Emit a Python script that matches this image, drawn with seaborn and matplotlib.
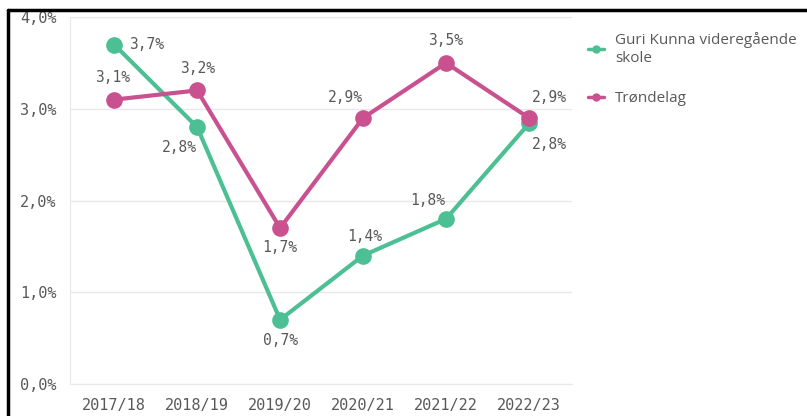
import matplotlib
matplotlib.use("Agg")
import matplotlib.pyplot as plt
from matplotlib.lines import Line2D
import pandas as pd
import seaborn as sns

# data
years = ["2017/18", "2018/19", "2019/20", "2020/21", "2021/22", "2022/23"]
guri = [3.7, 2.8, 0.7, 1.4, 1.8, 2.84]
trondelag = [3.1, 3.2, 1.7, 2.9, 3.5, 2.9]
series_names = ["Guri Kunna videregående skole", "Trøndelag"]
yticks = [0.0, 1.0, 2.0, 3.0, 4.0]

green = "#4dbf95"
pink = "#c9518f"
grey_txt = "#595959"

df = pd.DataFrame({
    "year": years * 2,
    "pct": guri + trondelag,
    "serie": [series_names[0]] * len(years) + [series_names[1]] * len(years),
})
df["x"] = df["year"].map({y: i for i, y in enumerate(years)})

sns.set_style("white")
mono = ["DejaVu Sans Mono"]

fig = plt.figure(figsize=(8.07, 4.16), dpi=100)
ax = fig.add_axes([0.087, 0.077, 0.622, 0.882])

sns.lineplot(data=df, x="x", y="pct", hue="serie", palette=[green, pink],
             marker="o", markersize=12, markeredgewidth=0, linewidth=3,
             ax=ax, legend=False)

ax.set_xlim(-0.53, 5.52)
ax.set_ylim(0, 4.0)
ax.set_xticks(range(len(years)))
ax.set_xticklabels(years, fontfamily=mono, fontsize=11, color=grey_txt)
ax.set_yticks(yticks)
ax.set_yticklabels([f"{v:.1f}".replace(".", ",") + "%" for v in yticks],
                   fontfamily=mono, fontsize=11, color=grey_txt)
ax.tick_params(length=0, pad=10)
ax.set_xlabel("")
ax.set_ylabel("")
ax.grid(axis="y", color="#e8e8e8", linewidth=1)
for s in ["top", "right"]:
    ax.spines[s].set_visible(False)
ax.spines["left"].set_color("#e8e8e8")
ax.spines["bottom"].set_color("#e8e8e8")

def lab(v):
    return f"{v:.1f}".replace(".", ",") + "%"

# label offsets (points) per point
g_off = [(23, 0), (-13, -15), (0, -15), (1, 14), (-13, 13), (15, -15)]
p_off = [(-1, 16), (0, 16), (0, -14), (-13, 15), (0, 16), (15, 15)]
for i in range(len(years)):
    ax.annotate(lab(guri[i]), (i, guri[i]), xytext=g_off[i], textcoords="offset points",
                ha="center", va="center", fontfamily=mono, fontsize=10.5, color=grey_txt)
    ax.annotate(lab(trondelag[i]), (i, trondelag[i]), xytext=p_off[i], textcoords="offset points",
                ha="center", va="center", fontfamily=mono, fontsize=10.5, color=grey_txt)

handles = [Line2D([], [], color=c, marker="o", markersize=5, linewidth=2.5) for c in (green, pink)]
leg = fig.legend(handles, ["Guri Kunna videregående\nskole", "Trøndelag"],
                 loc="upper left", bbox_to_anchor=(0.712, 0.957), frameon=False,
                 labelcolor=grey_txt, handlelength=1.0, handletextpad=0.75,
                 labelspacing=1.6, prop={"family": "Open Sans", "size": 11})
for t in leg.get_texts():
    t.set_linespacing(1.35)

# screenshot frame
fig.add_artist(Line2D([0.01, 1.0], [0.976, 0.976], color="black", linewidth=2.5))
fig.add_artist(Line2D([0.01, 0.01], [0.0, 0.976], color="black", linewidth=2.5))

fig.savefig("out.png", dpi=100)
